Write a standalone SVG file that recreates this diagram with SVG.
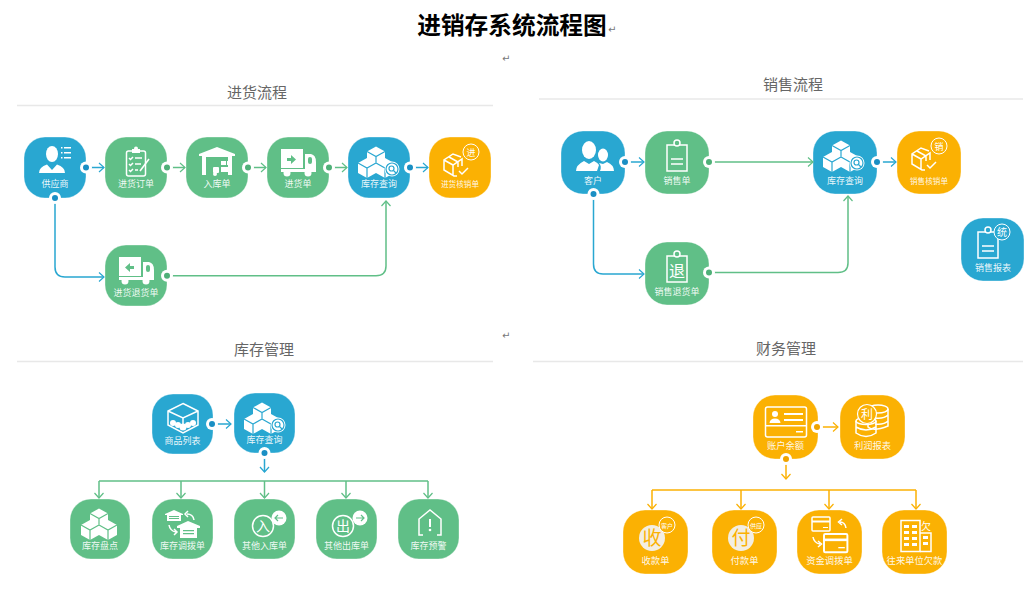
<svg xmlns="http://www.w3.org/2000/svg" width="1026" height="593" viewBox="0 0 1026 593">
<style>
text{font-family:"Noto Sans CJK SC","Noto Sans",sans-serif}
.main{font-size:23.700px;font-weight:700;fill:#000;text-anchor:middle}
.sec{font-size:15px;fill:#666;text-anchor:middle}
.rule{stroke:#e8e8e8;stroke-width:1.5;fill:none}
.mark{font-family:"DejaVu Sans",sans-serif;font-size:10px;fill:#777}
.blue{color:#29a7d1}.green{color:#60bf87}.orange{color:#fbb103}
.box{fill:currentColor;stroke:#fff;stroke-opacity:.35;stroke-width:1}
.lb{font-size:9px;fill:#fff;fill-opacity:.92;text-anchor:middle}
.lbs{font-size:7.600px}
.w{fill:#fff}
.o{fill:none;stroke:#fff;stroke-width:1.5}
.c{fill:none;stroke:currentColor;stroke-width:1.2}
.it{fill:#fff;text-anchor:middle}
.bl{fill:none;stroke:#29a7d1;stroke-width:1.5}
.gl{fill:none;stroke:#60bf87;stroke-width:1.5}
.ol{fill:none;stroke:#fbb103;stroke-width:1.5}
</style>
<defs>
<marker id="ab" markerUnits="userSpaceOnUse" markerWidth="12" markerHeight="12" refX="8" refY="6" orient="auto"><path d="M3 1.500L8 6L3 10.500" fill="none" stroke="#29a7d1" stroke-width="1.200"/></marker>
<marker id="ag" markerUnits="userSpaceOnUse" markerWidth="12" markerHeight="12" refX="8" refY="6" orient="auto"><path d="M3 1.500L8 6L3 10.500" fill="none" stroke="#60bf87" stroke-width="1.200"/></marker>
<marker id="ao" markerUnits="userSpaceOnUse" markerWidth="12" markerHeight="12" refX="8" refY="6" orient="auto"><path d="M3 1.500L8 6L3 10.500" fill="none" stroke="#fbb103" stroke-width="1.200"/></marker>
<g id="db"><circle r="6" fill="#fff"/><circle r="3" fill="#1a8fc4"/></g>
<g id="dg"><circle r="6" fill="#fff"/><circle r="3" fill="#4fb078"/></g>
<g id="do"><circle r="6" fill="#fff"/><circle r="3" fill="#f0a400"/></g>
<g id="cube"><path class="w" d="M0-10L9-5V5L0 10L-9 5V-5Z"/><path class="c" d="M-9-5L0 0L9-5M0 0V10" stroke-width=".9"/></g>
<g id="cubes"><use href="#cube" x="28" y="19.500"/><use href="#cube" x="19" y="31"/><use href="#cube" x="37" y="31"/></g>
<g id="lens"><circle cx="44" cy="32" r="7.500" fill="#fff"/><circle cx="44" cy="32" r="6" class="c" stroke-width="1"/><circle cx="43.500" cy="31.500" r="2.500" class="c" stroke-width="1"/><path class="c" d="M45.500 33.500L48 36"/></g>
<g id="person"><ellipse class="w" cx="28" cy="17" rx="6" ry="8"/><path class="w" d="M15 36Q15 30 23 27.500L28 33L33 27.500Q41 30 41 36Z"/></g>
<g id="truck"><rect class="w" x="14" y="12" width="22" height="19"/><path class="w" d="M38 17H44Q49 18 49 25V33H38Z"/><rect x="41" y="20" width="4" height="7" rx="2" fill="currentColor"/><rect class="w" x="14" y="32" width="35" height="3"/><circle class="w" cx="20" cy="36" r="3.500"/><circle class="w" cx="41" cy="36" r="3.500"/></g>
<g id="clip"><rect class="o" x="22" y="14" width="20" height="26" stroke-width="2"/><circle cx="32" cy="12" r="3" fill="currentColor" stroke="#fff" stroke-width="1.500"/></g>
<g id="boxcheck"><path class="o" stroke-width="2" d="M32 20L24 17L15 23V33L25 39H28M15 23L24 28L33 22V29M24 28V38M20 20L29 25V30"/><path class="o" stroke-width="2" d="M30 34L33 37L39 31"/></g>
<g id="badge"><circle cx="42" cy="15" r="8" fill="none" stroke="#fff"/></g>
<g id="arrowbadge"><circle class="w" cx="0" cy="0" r="7.500"/><path class="c" stroke-width="1.800" d="M-4 0H4M1-3L4 0L1 3"/></g>
<g id="bigcard"><rect class="o" x="0" y="0" width="18" height="14" rx="1"/><rect class="w" x="0" y="3.500" width="18" height="2"/><rect class="w" x="11" y="10" width="5" height="1"/></g>
</defs>

<text class="main" x="512" y="34">进销存系统流程图</text>
<text class="mark" x="608" y="33">↵</text>
<text class="mark" x="502" y="62">↵</text>
<text class="mark" x="502" y="339">↵</text>

<g id="headings">
<text class="sec" x="257" y="98">进货流程</text><path class="rule" d="M17 105.500H493"/>
<text class="sec" x="793" y="90">销售流程</text><path class="rule" d="M539 99H1023"/>
<text class="sec" x="264" y="355">库存管理</text><path class="rule" d="M17 361.500H493"/>
<text class="sec" x="786" y="354">财务管理</text><path class="rule" d="M533 361.500H1023"/>
</g>

<g id="n-gys" class="blue" transform="translate(24 137)"><rect class="box" width="62" height="61" rx="21"/><use href="#person"/><path class="w" d="M37 10h1.500v1.500H37zM40 10h7v1.500h-7zM37 15h1.500v1.500H37zM40 15h7v1.500h-7zM37 20h1.500v1.500H37zM40 20h7v1.500h-7z"/><text class="lb" x="31" y="50">供应商</text></g>
<g id="n-jhdd" class="green" transform="translate(105 137)"><rect class="box" width="62" height="61" rx="21"/><rect class="o" x="21.500" y="14" width="19" height="25" rx="2"/><path class="w" d="M27 12h8v4h-8z"/><circle class="w" cx="31" cy="11.500" r="2"/><path class="o" stroke-width="1" d="M24 21l1.500 1.500L28 20M30 21h7M24 27l1.500 1.500L28 26M30 27h6M24 33l1.500 1.500L28 32M30 33h3"/><path class="o" stroke-width="2.500" d="M35 34L44 22"/><text class="lb" x="31" y="50">进货订单</text></g>
<g id="n-rkd" class="green" transform="translate(186 137)"><rect class="box" width="62" height="61" rx="21"/><path class="w" d="M13 17L31 10L49 17V19H46V38H42V20H20V38H16V19H13Z"/><rect class="w" x="27" y="30" width="6" height="6" rx="1"/><circle class="w" cx="29" cy="37" r="2"/><rect class="w" x="35" y="24" width="5" height="4"/><rect class="w" x="41" y="24" width="4" height="4"/><rect class="w" x="35" y="30" width="10" height="5"/><text class="lb" x="31" y="50">入库单</text></g>
<g id="n-jhd" class="green" transform="translate(267 137)"><rect class="box" width="62" height="61" rx="21"/><use href="#truck"/><path d="M20 21h4v-3l5 4.500l-5 4.500v-3h-4z" fill="currentColor"/><text class="lb" x="31" y="50">进货单</text></g>
<g id="n-kccx1" class="blue" transform="translate(348 137)"><rect class="box" width="62" height="61" rx="21"/><use href="#cubes"/><use href="#lens"/><text class="lb" x="31" y="50">库存查询</text></g>
<g id="n-jhhx" class="orange" transform="translate(429 137)"><rect class="box" width="62" height="61" rx="21"/><use href="#boxcheck"/><use href="#badge"/><text class="it" x="42" y="18.500" font-size="9">进</text><text class="lb lbs" x="31" y="50">进货核销单</text></g>
<g id="n-jhth" class="green" transform="translate(105 245)"><rect class="box" width="62" height="61" rx="21"/><use href="#truck"/><path d="M29 21h-4v-3l-5 4.500l5 4.500v-3h4z" fill="currentColor"/><text class="lb" x="31" y="51">进货退货单</text></g>

<g id="n-kh" class="blue" transform="translate(561 131)"><rect class="box" width="64" height="63" rx="22"/><g transform="translate(0 -3)"><ellipse class="w" cx="28" cy="22" rx="7" ry="9"/><path class="w" d="M15 43Q15 37 23 33L28 36L33 33Q37 35 38 37L36 43Z"/><ellipse class="w" cx="42" cy="27" rx="5" ry="6.500"/><path class="w" d="M39 43H53Q53 37 46 34L42 36L38 35Q41 38 39 43Z"/></g><text class="lb" x="32" y="53">客户</text></g>
<g id="n-xsd" class="green" transform="translate(645 131)"><rect class="box" width="64" height="63" rx="22"/><use href="#clip"/><path class="o" d="M26 28H38M26 33H38"/><text class="lb" x="32" y="53">销售单</text></g>
<g id="n-kccx2" class="blue" transform="translate(813 131)"><rect class="box" width="64" height="63" rx="22"/><use href="#cubes"/><use href="#lens"/><text class="lb" x="32" y="53">库存查询</text></g>
<g id="n-xshx" class="orange" transform="translate(897 131)"><rect class="box" width="64" height="63" rx="22"/><use href="#boxcheck"/><use href="#badge"/><text class="it" x="42" y="18.500" font-size="9">销</text><text class="lb lbs" x="32" y="53">销售核销单</text></g>
<g id="n-xsth" class="green" transform="translate(645 242)"><rect class="box" width="64" height="63" rx="22"/><use href="#clip"/><text class="it" x="32" y="35" font-size="16">退</text><text class="lb" x="32" y="53">销售退货单</text></g>
<g id="n-xsbb" class="blue" transform="translate(961 218)"><rect class="box" width="63" height="63" rx="22"/><use href="#clip" x="-5"/><path class="o" d="M21 28H33M21 33H33"/><circle cx="41" cy="14" r="8" fill="currentColor" stroke="#fff"/><text class="it" x="41" y="17.500" font-size="10">统</text><text class="lb" x="32" y="53">销售报表</text></g>

<g id="n-splb" class="blue" transform="translate(152 394)"><rect class="box" width="61" height="60" rx="21"/><path class="o" stroke-width="1.200" d="M31 9.500L46 17V31L31 39L16 31V17ZM16 17L31 24L46 17M31 24V33"/><circle class="w" cx="21" cy="29" r="3"/><circle class="w" cx="26" cy="31" r="3"/><circle class="w" cx="31" cy="33" r="3.500"/><circle class="w" cx="36" cy="31" r="3"/><circle class="w" cx="41" cy="29" r="3"/><text class="lb" x="30.500" y="50">商品列表</text></g>
<g id="n-kccx3" class="blue" transform="translate(234 393)"><rect class="box" width="61" height="60" rx="21"/><use href="#cubes"/><use href="#lens"/><text class="lb" x="30.500" y="50">库存查询</text></g>
<g id="n-kcpd" class="green" transform="translate(70 499)"><rect class="box" width="60" height="60" rx="21"/><use href="#cubes" x="1"/><text class="lb" x="30" y="50">库存盘点</text></g>
<g id="n-kcdb" class="green" transform="translate(152 499)"><rect class="box" width="61" height="60" rx="21"/><path class="w" d="M13 15L22 11L31 15V16H29V22H15V16H13Z"/><path d="M17 17h10v1h-10zM17 19h10v1h-10z" fill="currentColor"/><path class="w" d="M25 27L36 22L48 27V29H45V39H28V29H25Z"/><path d="M31 31h11v1.200h-11zM31 34h11v1.200h-11z" fill="currentColor"/><path class="o" stroke-width="1.800" d="M42 21Q41 15 35 15M36 12L33 15L36 18"/><path class="o" stroke-width="1.800" d="M17 26Q18 32 24 33M22 30L25 33L22 36"/><text class="lb" x="30.500" y="50">库存调拨单</text></g>
<g id="n-qtrk" class="green" transform="translate(234 499)"><rect class="box" width="61" height="60" rx="21"/><circle class="o" cx="29" cy="27" r="10.500"/><text class="it" x="29" y="32" font-size="14">入</text><use href="#arrowbadge" transform="translate(45 19) rotate(180)"/><text class="lb" x="30.500" y="50">其他入库单</text></g>
<g id="n-qtck" class="green" transform="translate(316 499)"><rect class="box" width="61" height="60" rx="21"/><circle class="o" cx="27" cy="27" r="10.500"/><text class="it" x="27" y="32" font-size="14">出</text><use href="#arrowbadge" x="44" y="19"/><text class="lb" x="30.500" y="50">其他出库单</text></g>
<g id="n-kcyj" class="green" transform="translate(398 499)"><rect class="box" width="61" height="60" rx="21"/><path class="o" stroke-width="2" d="M25 36H21V20L32 11L43 20V36H39"/><rect class="w" x="31" y="20" width="2" height="8"/><circle class="w" cx="32" cy="31" r="1.300"/><text class="lb" x="30.500" y="50">库存预警</text></g>

<g id="n-zhye" class="orange" transform="translate(753 395)"><rect class="box" width="65" height="64" rx="22"/><rect class="o" x="12.500" y="12" width="41" height="30" rx="2" stroke-width="1.800"/><circle class="w" cx="22" cy="19" r="3"/><path class="w" d="M16.500 28Q17 23.500 22 23.500T27.500 28Z"/><rect class="w" x="31" y="18" width="19" height="2"/><rect class="w" x="31" y="24" width="19" height="2"/><rect class="w" x="13" y="30" width="40" height="1.500"/><rect class="w" x="43" y="36" width="7" height="1.500"/><text class="lb" x="32.500" y="54" style="font-size:9.300px">账户余额</text></g>
<g id="n-lrbb" class="orange" transform="translate(840 395)"><rect class="box" width="65" height="64" rx="22"/><g class="o" stroke-width="1.200"><ellipse cx="38" cy="14" rx="10" ry="4"/><path d="M28 14V32Q33 37 48 31V14M35 23Q44 24 48 20M35 29Q44 30 48 26"/><ellipse cx="26" cy="26" rx="10" ry="3.500"/><path d="M16 26V38Q26 45 36 38V26M16 32Q26 38 36 32"/></g><circle cx="27" cy="19" r="9.500" fill="currentColor" stroke="#fff" stroke-width="1.200"/><text class="it" x="27" y="23.500" font-size="12">利</text><text class="lb" x="32.500" y="54" style="font-size:9.300px">利润报表</text></g>
<g id="n-skd" class="orange" transform="translate(623 510)"><rect class="box" width="65" height="64" rx="22"/><circle cx="29" cy="28" r="13" fill="#f3eee2"/><text x="29" y="35" text-anchor="middle" font-size="19" fill="#fbb103">收</text><circle cx="44" cy="15" r="8" fill="currentColor" stroke="#fff"/><text class="it" x="44" y="17.500" font-size="6">客户</text><text class="lb" x="32.500" y="54" style="font-size:9.300px">收款单</text></g>
<g id="n-fkd" class="orange" transform="translate(712 510)"><rect class="box" width="65" height="64" rx="22"/><circle cx="29" cy="28" r="13" fill="#f3eee2"/><text x="29" y="35" text-anchor="middle" font-size="19" fill="#fbb103">付</text><circle cx="44" cy="15" r="8" fill="currentColor" stroke="#fff"/><text class="it" x="44" y="17.500" font-size="6">供应</text><text class="lb" x="32.500" y="54" style="font-size:9.300px">付款单</text></g>
<g id="n-zjdb" class="orange" transform="translate(797 510)"><rect class="box" width="65" height="64" rx="22"/><use href="#bigcard" x="15" y="7"/><g transform="translate(27 24) scale(1.300)"><use href="#bigcard"/></g><path class="o" stroke-width="2" d="M49 18Q48 12 43 12M45 9L41.500 12L45 15"/><path class="o" stroke-width="2" d="M16 27Q17 33 23 34M21 31L24.500 34L21 37"/><text class="lb" x="32.500" y="54" style="font-size:9.300px">资金调拨单</text></g>
<g id="n-wlqk" class="orange" transform="translate(882 510)"><rect class="box" width="65" height="64" rx="22"/><rect class="o" x="19" y="10.500" width="19" height="31" stroke-width="2"/><path class="w" d="M22 15h5v3h-5zM30 15h5v3h-5zM22 21h5v3h-5zM30 21h5v3h-5zM22 27h5v3h-5zM30 27h5v3h-5zM22 33h5v3h-5zM30 33h5v3h-5z"/><path class="o" stroke-width="2" d="M38 23H49V41.500H38"/><path class="w" d="M41 26h5v3h-5zM41 32h5v3h-5z"/><text class="it" x="44" y="20" font-size="10">欠</text><text class="lb" x="32.500" y="54" style="font-size:9.300px">往来单位欠款</text></g>

<g id="connectors">
<path class="bl" marker-end="url(#ab)" d="M86 167.500H104"/>
<path class="gl" marker-end="url(#ag)" d="M167 167.500H185"/>
<path class="gl" marker-end="url(#ag)" d="M248 167.500H266"/>
<path class="gl" marker-end="url(#ag)" d="M329 167.500H347"/>
<path class="bl" marker-end="url(#ab)" d="M410 167.500H428"/>
<path class="bl" marker-end="url(#ab)" d="M55 198V267Q55 277 65 277H104"/>
<path class="gl" marker-end="url(#ag)" d="M167 275.700H376Q386 275.700 386 266V201"/>
<path class="bl" marker-end="url(#ab)" d="M625 162H644"/>
<path class="gl" marker-end="url(#ag)" d="M709 162H813"/>
<path class="bl" marker-end="url(#ab)" d="M877 162H896"/>
<path class="bl" marker-end="url(#ab)" d="M593.500 194V264Q593.500 274 603 274H644"/>
<path class="gl" marker-end="url(#ag)" d="M709 272.500H838Q848 272.500 848 263V196"/>
<path class="bl" marker-end="url(#ab)" d="M212 424H231"/>
<path class="bl" marker-end="url(#ab)" d="M264.500 453V472"/>
<path class="gl" d="M99 481H428"/>
<path class="gl" marker-end="url(#ag)" d="M99 481V498"/>
<path class="gl" marker-end="url(#ag)" d="M181 481V498"/>
<path class="gl" marker-end="url(#ag)" d="M264.500 481V498"/>
<path class="gl" marker-end="url(#ag)" d="M346 481V498"/>
<path class="gl" marker-end="url(#ag)" d="M428 481V498"/>
<path class="ol" marker-end="url(#ao)" d="M817 427H838"/>
<path class="ol" marker-end="url(#ao)" d="M786 459V479"/>
<path class="ol" d="M652 490H916"/>
<path class="ol" marker-end="url(#ao)" d="M652 490V509"/>
<path class="ol" marker-end="url(#ao)" d="M741 490V509"/>
<path class="ol" marker-end="url(#ao)" d="M829 490V509"/>
<path class="ol" marker-end="url(#ao)" d="M916 490V509"/>
<use href="#db" x="86" y="167.500"/><use href="#dg" x="167" y="167.500"/><use href="#dg" x="248" y="167.500"/><use href="#dg" x="329" y="167.500"/><use href="#db" x="410" y="167.500"/>
<use href="#db" x="55" y="198"/><use href="#dg" x="167" y="275.700"/>
<use href="#db" x="625" y="162"/><use href="#dg" x="709" y="162"/><use href="#db" x="877" y="162"/>
<use href="#db" x="593.500" y="194"/><use href="#dg" x="709" y="272.500"/>
<use href="#db" x="212" y="424"/><use href="#db" x="264.500" y="453"/>
<use href="#do" x="817" y="427"/><use href="#do" x="786" y="459"/>
</g>
</svg>
